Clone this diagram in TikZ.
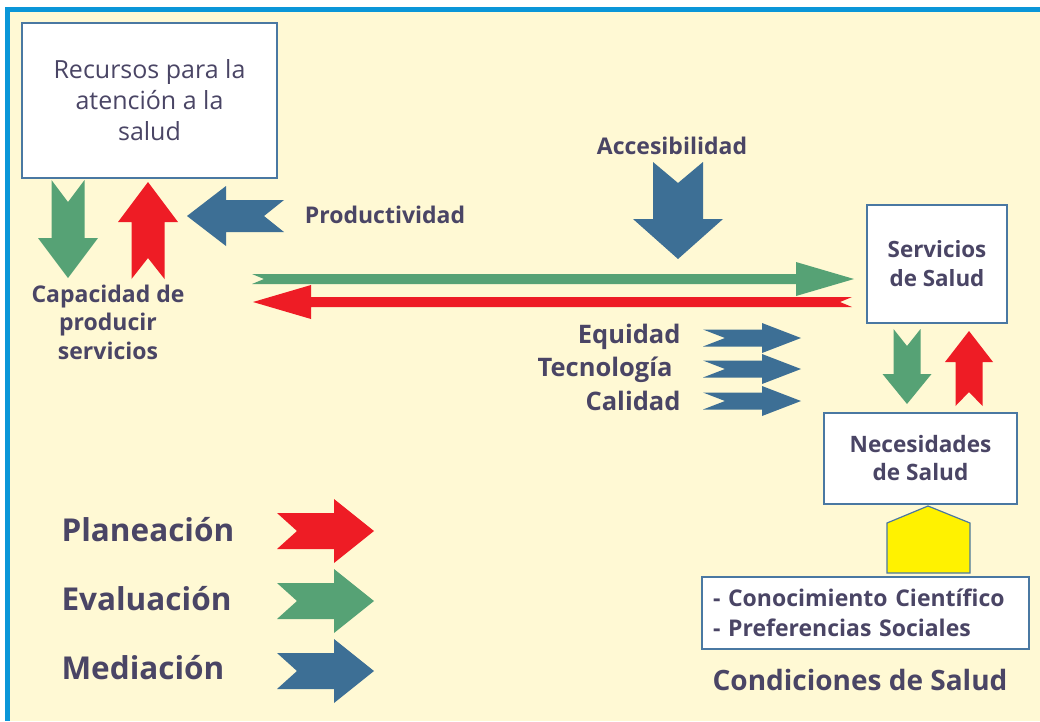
\documentclass[tikz,border=0pt]{standalone}
\usepackage{fontspec}
\setmainfont{Open Sans}
\usepackage{tikz}
\usetikzlibrary{positioning}
\definecolor{bgyellow}{HTML}{FFF9D4}
\definecolor{framebl}{HTML}{0A96D8}
\definecolor{boxbl}{HTML}{4A78A2}
\definecolor{txt}{HTML}{4A4565}
\definecolor{argreen}{HTML}{56A275}
\definecolor{arred}{HTML}{EE1C25}
\definecolor{arblue}{HTML}{3D6F95}
\definecolor{aryellow}{HTML}{FFF200}
\tikzstyle{box} = [draw=boxbl, line width=1.2pt, fill=white, align=center, text=txt]
\tikzstyle{lbl} = [text=txt, font=\bfseries\fontsize{23}{28.5}\selectfont, align=center]
\tikzstyle{mid} = [text=txt, font=\bfseries\fontsize{25.5}{30}\selectfont, anchor=east]
\tikzstyle{big} = [text=txt, font=\bfseries\fontsize{31.5}{36}\selectfont, anchor=west]
% fat arrow: style, tail centre, angle, length, shaft half, head half, head length, notch
\newcommand{\fatarrow}[8]{%
  \fill[#1, shift={#2}, rotate=#3] (0,#5) -- ({#4-#7},#5) -- ({#4-#7},#6) -- (#4,0)
    -- ({#4-#7},-#6) -- ({#4-#7},-#5) -- (0,-#5) -- (#8,0) -- cycle;}

\begin{document}
\begin{tikzpicture}[x=1pt, y=-1pt]
  \useasboundingbox (0,0) rectangle (1040,721);
  % background and frame
  \fill[white] (0,0) rectangle (1040,721);
  \fill[bgyellow] (5,7) rectangle (1040,721);
  \fill[framebl] (5,7) rectangle (1040,12);
  \fill[framebl] (5,7) rectangle (10,721);

  % boxes
  \node[box, minimum width=255pt, minimum height=155pt, font=\fontsize{25}{31}\selectfont]
    (recursos) at (149.5,100.5) {Recursos para la\\atención a la\\salud};
  \node[box, minimum width=140pt, minimum height=118pt, font=\bfseries\fontsize{22.4}{29}\selectfont]
    (servicios) at (937,264) {Servicios\\de Salud};
  \node[box, minimum width=193pt, minimum height=91pt, font=\bfseries\fontsize{22.6}{28}\selectfont]
    (necesidades) at (920.5,458.5) {Necesidades\\de Salud};
  \node[box, minimum width=327pt, minimum height=72pt, text width=305pt, align=left,
    font=\bfseries\fontsize{23}{30}\selectfont]
    (conoc) at (865.5,613) {- Conocimiento Científico\\- Preferencias Sociales};
  \draw[boxbl, line width=1.2pt, fill=aryellow] (887,573) -- (887,523) -- (928,506) -- (970,523) -- (970,573) -- cycle;

  % labels
  \node[lbl] (capacidad) at (108,322) {Capacidad de\\producir\\servicios};
  \node[lbl] (product) at (385,215) {Productividad};
  \node[lbl] (acces) at (672,146) {Accesibilidad};
  \node[mid] (equidad) at (684,337) {Equidad};
  \node[mid] (tecno) at (676,370) {Tecnología};
  \node[mid] (calidad) at (684,401) {Calidad};
  \node[lbl, font=\bfseries\fontsize{28}{30}\selectfont] (condic) at (860,680) {Condiciones de Salud};
  \node[big] (plan) at (58,530) {Planeación};
  \node[big] (eval) at (58,599) {Evaluación};
  \node[big] (medi) at (58,668) {Mediación};

  % arrows
  \fatarrow{argreen}{(68,180)}{-90}{98}{16.5}{30}{40}{22}
  \fatarrow{arred}{(148,279)}{90}{97}{16.5}{30}{40}{21}
  \fatarrow{arblue}{(284,216)}{180}{97}{16}{30}{39}{20}
  \fatarrow{argreen}{(252,279)}{0}{602}{5}{17}{58}{12}
  \fatarrow{arred}{(852,302)}{180}{599}{5}{17}{58}{12}
  \fatarrow{arblue}{(678,162)}{-90}{97}{25}{45}{40}{21}
  \fatarrow{argreen}{(907,329)}{-90}{75}{13.5}{24.5}{30}{17}
  \fatarrow{arred}{(969,406)}{90}{75}{13.5}{24}{31}{14}
  \foreach \yy in {338,369,401}{
    \fatarrow{arblue}{(703,\yy)}{0}{98}{8.5}{15}{39}{22}
  }
  \fatarrow{arred}{(277,531)}{0}{97}{18}{32}{40}{20}
  \fatarrow{argreen}{(277,601)}{0}{97}{18}{32}{40}{20}
  \fatarrow{arblue}{(277,671)}{0}{97}{18}{32}{40}{20}
\end{tikzpicture}
\end{document}
